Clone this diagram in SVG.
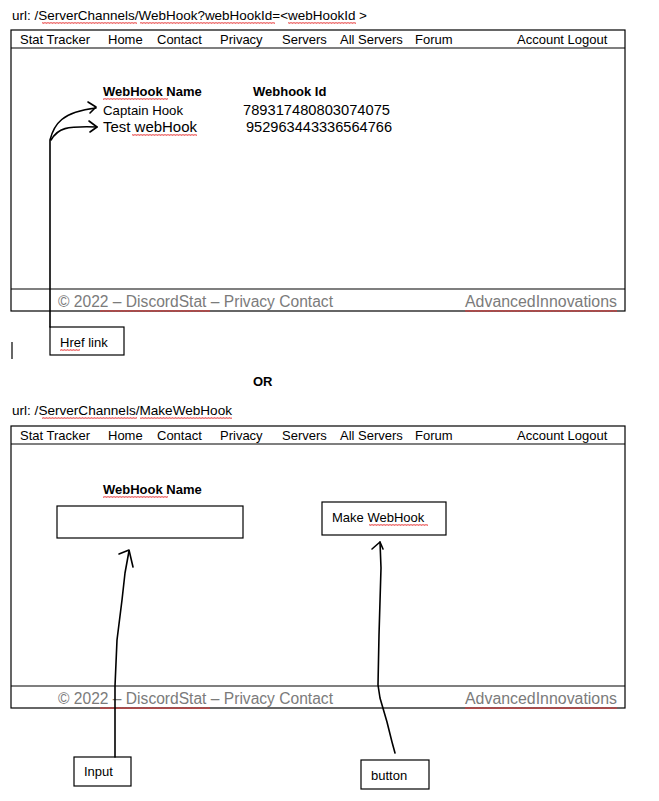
<svg xmlns="http://www.w3.org/2000/svg" width="659" height="801" viewBox="0 0 659 801">
<defs>
<style>
text{font-family:"Liberation Sans",Arial,sans-serif;font-size:13px;fill:#000}
.b{font-weight:bold}
.ft{font-size:16px;fill:#7b7b7b}
.num{font-size:14px}
.box{fill:#fff;stroke:#000;stroke-width:1.2}
.ln{stroke:#000;stroke-width:1.2}
.pen{fill:none;stroke:#000;stroke-width:1.6;stroke-linecap:round;stroke-linejoin:round}
</style>
<pattern id="sq" width="3" height="2" patternUnits="userSpaceOnUse">
<path d="M0 1.8 L0.75 0.2 L1.5 1.8 L2.25 0.2 L3 1.8" fill="none" stroke="#e53030" stroke-width="0.6"/>
</pattern>
</defs>
<rect width="659" height="801" fill="#fff"/>

<g id="page1">
<text x="12" y="20" textLength="355" lengthAdjust="spacingAndGlyphs">url: /ServerChannels/WebHook?webHookId=&lt;webHookId &gt;</text>
<rect class="box" x="11" y="30" width="614" height="281"/>
<line class="ln" x1="11" y1="48" x2="625" y2="48"/>
<line class="ln" x1="11" y1="289" x2="625" y2="289"/>
<g id="nav1">
<text x="20" y="44">Stat Tracker</text>
<text x="108" y="44">Home</text>
<text x="157" y="44">Contact</text>
<text x="220" y="44">Privacy</text>
<text x="282" y="44">Servers</text>
<text x="340" y="44">All Servers</text>
<text x="415" y="44">Forum</text>
<text x="517" y="44">Account Logout</text>
</g>
<g id="table1">
<text class="b" x="103" y="96">WebHook Name</text>
<text class="b" x="253" y="96">Webhook Id</text>
<text x="103" y="115" textLength="80" lengthAdjust="spacingAndGlyphs">Captain Hook</text>
<text class="num" x="243" y="115" textLength="147" lengthAdjust="spacingAndGlyphs">789317480803074075</text>
<text x="103" y="132" style="font-size:15px" textLength="94" lengthAdjust="spacingAndGlyphs">Test webHook</text>
<text class="num" x="246" y="132" textLength="146" lengthAdjust="spacingAndGlyphs">952963443336564766</text>
</g>
<g id="footer1">
<text class="ft" x="58" y="307" textLength="275" lengthAdjust="spacingAndGlyphs">© 2022 – DiscordStat – Privacy Contact</text>
<text class="ft" x="465" y="307" textLength="152" lengthAdjust="spacingAndGlyphs">AdvancedInnovations</text>
</g>
</g>

<g id="href-link">
<rect class="box" x="50" y="327" width="74" height="28"/>
<text x="60" y="347">Href link</text>
</g>
<line class="ln" x1="12" y1="342" x2="12" y2="359"/>

<text class="b" x="253" y="386">OR</text>

<g id="page2">
<text x="12" y="415" textLength="220" lengthAdjust="spacingAndGlyphs">url: /ServerChannels/MakeWebHook</text>
<rect class="box" x="11" y="426" width="614" height="282"/>
<line class="ln" x1="11" y1="444" x2="625" y2="444"/>
<line class="ln" x1="11" y1="686" x2="625" y2="686"/>
<g id="nav2">
<text x="20" y="440">Stat Tracker</text>
<text x="108" y="440">Home</text>
<text x="157" y="440">Contact</text>
<text x="220" y="440">Privacy</text>
<text x="282" y="440">Servers</text>
<text x="340" y="440">All Servers</text>
<text x="415" y="440">Forum</text>
<text x="517" y="440">Account Logout</text>
</g>
<text class="b" x="103" y="494">WebHook Name</text>
<g id="input-field">
<rect class="box" x="57" y="506" width="186" height="32"/>
</g>
<g id="make-button">
<rect class="box" x="322" y="502" width="124" height="33"/>
<text x="332" y="522">Make WebHook</text>
</g>
<g id="footer2">
<text class="ft" x="58" y="704" textLength="275" lengthAdjust="spacingAndGlyphs">© 2022 – DiscordStat – Privacy Contact</text>
<text class="ft" x="465" y="704" textLength="152" lengthAdjust="spacingAndGlyphs">AdvancedInnovations</text>
</g>
</g>

<g id="input-label">
<rect class="box" x="74" y="757" width="57" height="29"/>
<text x="84" y="776">Input</text>
</g>
<g id="button-label">
<rect class="box" x="361" y="760" width="68" height="29"/>
<text x="371" y="780">button</text>
</g>

<g id="squiggles" fill="url(#sq)">
<rect x="42" y="22" width="95" height="2"/>
<rect x="140" y="22" width="135" height="2"/>
<rect x="288" y="22" width="68" height="2"/>
<rect x="103" y="98" width="65" height="2"/>
<rect x="132" y="134" width="65" height="2"/>
<rect x="100" y="310" width="110" height="2"/>
<rect x="465" y="310" width="152" height="2"/>
<rect x="60" y="349" width="20" height="2"/>
<rect x="42" y="417" width="95" height="2"/>
<rect x="140" y="417" width="92" height="2"/>
<rect x="103" y="496" width="65" height="2"/>
<rect x="369" y="524" width="59" height="2"/>
<rect x="100" y="707" width="110" height="2"/>
<rect x="465" y="707" width="152" height="2"/>
</g>

<g id="connectors">
<path class="pen" d="M50 327 L50 140 C54 124 62 112 96 108"/>
<path class="pen" d="M88 102 L96 107 L90 113"/>
<path class="pen" d="M51 140 C58 128 66 126 97 127"/>
<path class="pen" d="M89 121 L97 127 L90 132"/>
<path class="pen" d="M115 757 L115 686 L117 640 L122 600 L125 573 L129 551"/>
<path class="pen" d="M119 554 L129 550 L133 567"/>
<path class="pen" d="M395 753 L392 742 L387 722 L380 698 L378 685 L379 635 L381 568 L380 542"/>
<path class="pen" d="M372 549 L380 542 L383 549"/>
</g>
</svg>
